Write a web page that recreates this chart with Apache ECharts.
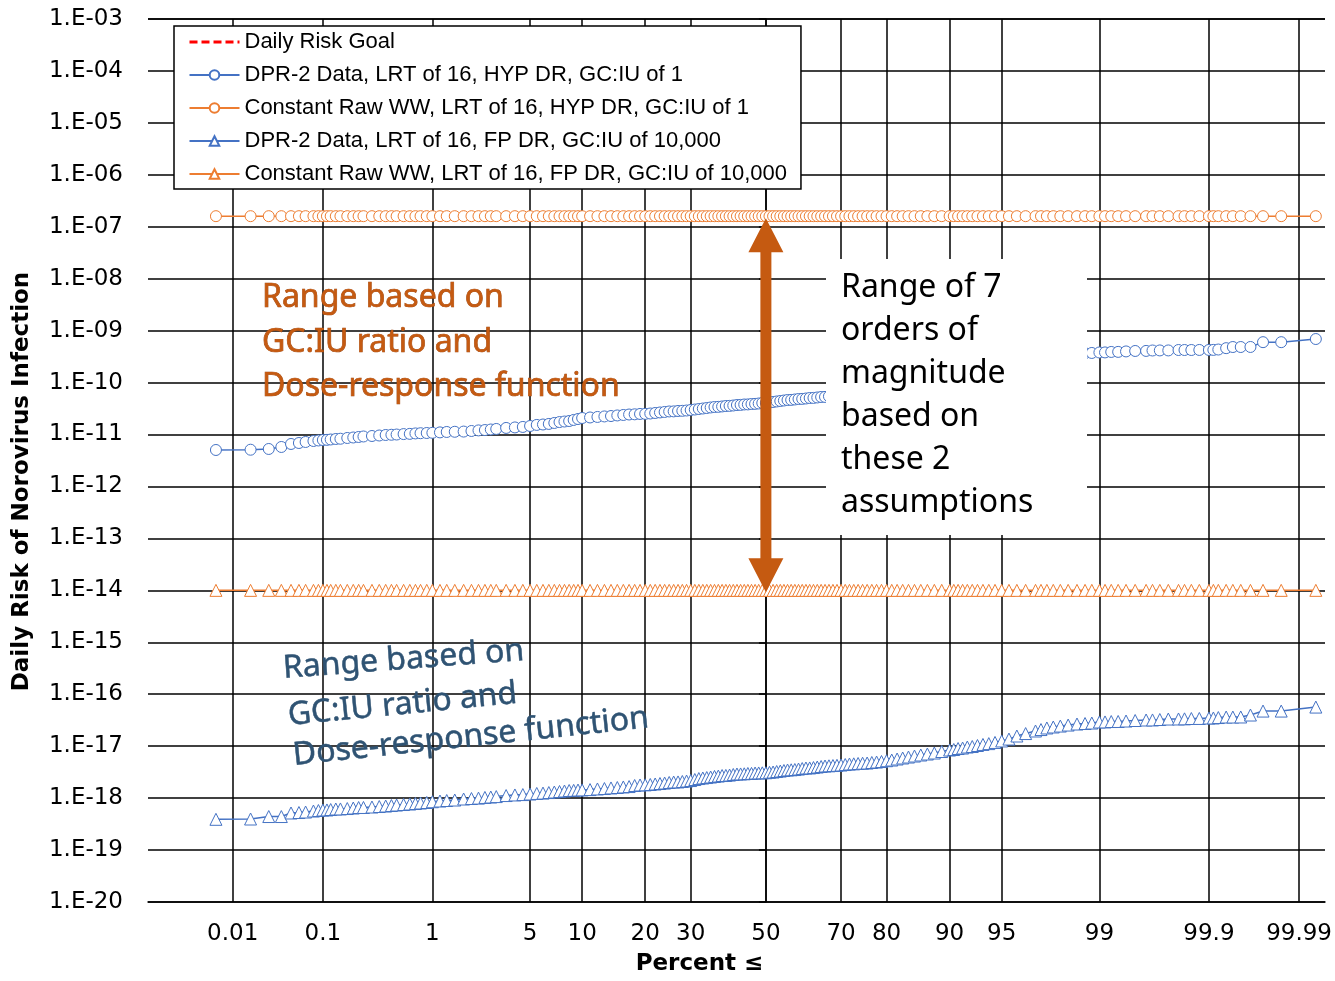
<!DOCTYPE html>
<html>
<head>
<meta charset="utf-8">
<script src="https://cdn.jsdelivr.net/npm/echarts@6/dist/echarts.min.js"></script>
<style>
html, body { margin: 0; padding: 0; background: #fff; }
#chart { width: 1335px; height: 981px; }
</style>
</head>
<body>
<div id="chart"></div>
<script>
// plotting position (percent) shared by the Monte Carlo series
const percentRank = [
  0.00625, 0.01625, 0.02625, 0.03625, 0.04625, 0.05625, 0.06625, 0.08, 0.09, 0.1,
  0.11, 0.12, 0.135, 0.15, 0.175, 0.2, 0.225, 0.25, 0.3, 0.35,
  0.4, 0.45, 0.5, 0.575, 0.65, 0.725, 0.8, 0.9,
  1, 1.15, 1.3, 1.5, 1.75, 2, 2.25, 2.5, 2.75, 3,
  3.5, 4, 4.5, 5, 5.5, 6, 6.5, 7, 7.5, 8,
  8.5, 9, 9.5,
  10, 11, 12, 13, 14, 15, 16, 17, 18, 19,
  20, 21, 22, 23, 24, 25, 26, 27, 28, 29,
  30, 31, 32, 33, 34, 35, 36, 37, 38, 39,
  40, 41, 42, 43, 44, 45, 46, 47, 48, 49,
  50, 51, 52, 53, 54, 55, 56, 57, 58, 59,
  60, 61, 62, 63, 64, 65, 66, 67, 68, 69,
  70, 71, 72, 73, 74, 75, 76, 77, 78, 79,
  80, 81, 82, 83, 84, 85, 86, 87, 88, 89,
  90,
  90.5, 91, 91.5, 92, 92.5, 93, 93.5, 94, 94.5, 95,
  95.5, 96, 96.5, 97, 97.25, 97.5, 97.75, 98, 98.25, 98.5,
  98.7, 98.85,
  99, 99.1, 99.2, 99.3, 99.4, 99.5, 99.6, 99.65, 99.7, 99.75,
  99.8, 99.825, 99.85, 99.875, 99.9, 99.91, 99.92, 99.93375, 99.94375, 99.95375,
  99.96375, 99.97375, 99.98375, 99.99375
]

// DPR-2 Data, LRT of 16, HYP DR, GC:IU of 1
const dprHypRisk = [
  5.04e-12, 5.1e-12, 5.27e-12, 5.76e-12, 6.58e-12, 6.87e-12, 7.19e-12, 7.51e-12, 7.68e-12, 7.85e-12,
  7.9e-12, 8.03e-12, 8.21e-12, 8.3e-12, 8.58e-12, 8.77e-12, 8.97e-12, 9.17e-12, 9.37e-12, 9.58e-12,
  9.8e-12, 9.9e-12, 1.0e-11, 1.02e-11, 1.03e-11, 1.05e-11, 1.06e-11, 1.07e-11,
  1.08e-11, 1.1e-11, 1.12e-11, 1.13e-11, 1.14e-11, 1.17e-11, 1.2e-11, 1.22e-11, 1.25e-11, 1.28e-11,
  1.34e-11, 1.37e-11, 1.4e-11, 1.46e-11, 1.53e-11, 1.56e-11, 1.6e-11, 1.67e-11, 1.74e-11, 1.78e-11,
  1.82e-11, 1.91e-11, 1.99e-11,
  2.08e-11, 2.13e-11, 2.18e-11, 2.23e-11, 2.27e-11, 2.33e-11, 2.38e-11, 2.43e-11, 2.45e-11, 2.49e-11,
  2.5e-11, 2.54e-11, 2.6e-11, 2.66e-11, 2.72e-11, 2.78e-11, 2.79e-11, 2.84e-11, 2.86e-11, 2.9e-11,
  2.97e-11, 3.03e-11, 3.1e-11, 3.17e-11, 3.24e-11, 3.32e-11, 3.39e-11, 3.41e-11, 3.47e-11, 3.54e-11,
  3.56e-11, 3.62e-11, 3.7e-11, 3.72e-11, 3.79e-11, 3.8e-11, 3.87e-11, 3.89e-11, 3.96e-11, 4.05e-11,
  4.06e-11, 4.14e-11, 4.23e-11, 4.33e-11, 4.42e-11, 4.52e-11, 4.62e-11, 4.64e-11, 4.73e-11, 4.83e-11,
  4.85e-11, 4.94e-11, 5.05e-11, 5.07e-11, 5.17e-11, 5.28e-11, 5.3e-11, 5.45e-11, 5.6e-11, 5.8e-11,
  6.0e-11, 6.25e-11, 6.5e-11, 6.75e-11, 7.0e-11, 7.3e-11, 7.6e-11, 7.95e-11, 8.3e-11, 8.65e-11,
  9.0e-11, 9.5e-11, 1.0e-10, 1.05e-10, 1.1e-10, 1.15e-10, 1.2e-10, 1.28e-10, 1.35e-10, 1.42e-10,
  1.5e-10,
  1.55e-10, 1.6e-10, 1.65e-10, 1.7e-10, 1.78e-10, 1.85e-10, 1.92e-10, 2.0e-10, 2.1e-10, 2.2e-10,
  2.32e-10, 2.45e-10, 2.6e-10, 2.75e-10, 2.88e-10, 3.0e-10, 3.15e-10, 3.3e-10, 3.45e-10, 3.6e-10,
  3.68e-10, 3.72e-10,
  3.8e-10, 3.81e-10, 3.89e-10, 3.9e-10, 3.98e-10, 4.06e-10, 4.07e-10, 4.15e-10, 4.16e-10, 4.16e-10,
  4.24e-10, 4.24e-10, 4.24e-10, 4.25e-10, 4.25e-10, 4.26e-10, 4.33e-10, 4.6e-10, 4.84e-10, 4.84e-10,
  4.85e-10, 6.0e-10, 6.0e-10, 6.9e-10
]

// DPR-2 Data, LRT of 16, FP DR, GC:IU of 10,000
const dprFpRisk = [
  3.91e-19, 3.96e-19, 4.42e-19, 4.42e-19, 5.17e-19, 5.28e-19, 5.4e-19, 5.64e-19, 5.77e-19, 5.9e-19,
  5.92e-19, 6.03e-19, 6.17e-19, 6.19e-19, 6.3e-19, 6.45e-19, 6.59e-19, 6.61e-19, 6.74e-19, 6.89e-19,
  7.04e-19, 7.2e-19, 7.36e-19, 7.53e-19, 7.7e-19, 7.87e-19, 8.05e-19, 8.23e-19,
  8.52e-19, 8.79e-19, 8.99e-19, 9.19e-19, 9.61e-19, 9.82e-19, 1.0e-18, 1.03e-18, 1.05e-18, 1.07e-18,
  1.12e-18, 1.15e-18, 1.17e-18, 1.2e-18, 1.23e-18, 1.25e-18, 1.28e-18, 1.31e-18, 1.34e-18, 1.37e-18,
  1.4e-18, 1.41e-18, 1.43e-18,
  1.44e-18, 1.46e-18, 1.5e-18, 1.53e-18, 1.57e-18, 1.6e-18, 1.64e-18, 1.67e-18, 1.75e-18, 1.79e-18,
  1.8e-18, 1.83e-18, 1.87e-18, 1.91e-18, 1.95e-18, 2.0e-18, 2.04e-18, 2.05e-18, 2.09e-18, 2.13e-18,
  2.18e-18, 2.28e-18, 2.38e-18, 2.44e-18, 2.49e-18, 2.55e-18, 2.61e-18, 2.66e-18, 2.72e-18, 2.73e-18,
  2.78e-18, 2.85e-18, 2.91e-18, 2.92e-18, 2.94e-18, 2.98e-18, 2.99e-18, 3.04e-18, 3.05e-18, 3.07e-18,
  3.08e-18, 3.14e-18, 3.18e-18, 3.25e-18, 3.32e-18, 3.4e-18, 3.48e-18, 3.51e-18, 3.55e-18, 3.63e-18,
  3.71e-18, 3.8e-18, 3.81e-18, 3.88e-18, 3.97e-18, 4.06e-18, 4.15e-18, 4.19e-18, 4.24e-18, 4.28e-18,
  4.34e-18, 4.43e-18, 4.53e-18, 4.57e-18, 4.64e-18, 4.7e-18, 4.74e-18, 4.85e-18, 4.95e-18, 5.06e-18,
  5.25e-18, 5.41e-18, 5.66e-18, 5.92e-18, 6.18e-18, 6.46e-18, 6.76e-18, 7.06e-18, 7.38e-18, 7.89e-18,
  8.43e-18,
  8.62e-18, 9.01e-18, 9.21e-18, 9.63e-18, 9.85e-18, 1.03e-17, 1.08e-17, 1.12e-17, 1.18e-17, 1.26e-17,
  1.37e-17, 1.57e-17, 1.75e-17, 1.96e-17, 2.09e-17, 2.24e-17, 2.34e-17, 2.44e-17, 2.55e-17, 2.67e-17,
  2.73e-17, 2.79e-17,
  2.92e-17, 2.93e-17, 2.98e-17, 2.99e-17, 3.05e-17, 3.12e-17, 3.19e-17, 3.2e-17, 3.26e-17, 3.33e-17,
  3.34e-17, 3.36e-17, 3.41e-17, 3.42e-17, 3.48e-17, 3.49e-17, 3.56e-17, 3.64e-17, 3.64e-17, 3.65e-17,
  3.98e-17, 4.74e-17, 4.74e-17, 5.66e-17
]

// constant raw wastewater runs are flat
const rawWwHypRisk = 1.6e-7
const rawWwFpRisk = 1e-14
const dailyRiskGoal = 2.7e-7

const xTickPercents = [0.01, 0.1, 1, 5, 10, 20, 30, 50, 70, 80, 90, 95, 99, 99.9, 99.99]
const xTickLabels = ['0.01', '0.1', '1', '5', '10', '20', '30', '50', '70', '80', '90', '95', '99', '99.9', '99.99']

const seriesNames = [
  'Daily Risk Goal',
  'DPR-2 Data, LRT of 16, HYP DR, GC:IU of 1',
  'Constant Raw WW, LRT of 16, HYP DR, GC:IU of 1',
  'DPR-2 Data, LRT of 16, FP DR, GC:IU of 10,000',
  'Constant Raw WW, LRT of 16, FP DR, GC:IU of 10,000'
]

const BLUE = '#4472C4'
const ORANGE = '#ED7D31'
const RUST = '#C55A11'

// inverse normal CDF (Acklam) -> probability-paper x axis
function normInv(p) {
  const a = [-3.969683028665376e+01, 2.209460984245205e+02, -2.759285104469687e+02, 1.383577518672690e+02, -3.066479806614716e+01, 2.506628277459239e+00]
  const b = [-5.447609879822406e+01, 1.615858368580409e+02, -1.556989798598866e+02, 6.680131188771972e+01, -1.328068155288572e+01]
  const c = [-7.784894002430293e-03, -3.223964580411365e-01, -2.400758277161838e+00, -2.549732539343734e+00, 4.374664141464968e+00, 2.938163982698783e+00]
  const d = [7.784695709041462e-03, 3.224671290700398e-01, 2.445134137142996e+00, 3.754408661907416e+00]
  const pl = 0.02425
  let q, r
  if (p < pl) {
    q = Math.sqrt(-2 * Math.log(p))
    return (((((c[0] * q + c[1]) * q + c[2]) * q + c[3]) * q + c[4]) * q + c[5]) / ((((d[0] * q + d[1]) * q + d[2]) * q + d[3]) * q + 1)
  }
  if (p > 1 - pl) {
    q = Math.sqrt(-2 * Math.log(1 - p))
    return -(((((c[0] * q + c[1]) * q + c[2]) * q + c[3]) * q + c[4]) * q + c[5]) / ((((d[0] * q + d[1]) * q + d[2]) * q + d[3]) * q + 1)
  }
  q = p - 0.5
  r = q * q
  return (((((a[0] * r + a[1]) * r + a[2]) * r + a[3]) * r + a[4]) * r + a[5]) * q / (((((b[0] * r + b[1]) * r + b[2]) * r + b[3]) * r + b[4]) * r + 1)
}
const probit = pct => normInv(pct / 100)
const xTickZ = xTickPercents.map(probit)

function tickLabel(v) {
  let best = 0
  xTickZ.forEach((z, i) => { if (Math.abs(z - v) < Math.abs(xTickZ[best] - v)) best = i })
  return xTickLabels[best]
}
function expLabel(v) {
  const e = Math.round(Math.log10(v))
  return '1.E' + (e < 0 ? '-' : '+') + String(Math.abs(e)).padStart(2, '0')
}

const chart = echarts.init(document.getElementById('chart'))

const markerSeries = (name, values, symbol, color) => ({
  name,
  type: 'line',
  data: percentRank.map((p, i) => [probit(p), Array.isArray(values) ? values[i] : values]),
  symbol,
  symbolSize: symbol === 'circle' ? 11 : 12,
  showSymbol: true,
  showAllSymbol: true,
  lineStyle: { color, width: 1.5 },
  itemStyle: { color: '#fff', borderColor: color, borderWidth: 1 },
  emphasis: { disabled: true },
})

chart.setOption({
  animation: false,
  textStyle: { fontFamily: 'DejaVu Sans' },
  grid: { left: 148, right: 10, top: 19, bottom: 79 },
  legend: {
    orient: 'vertical',
    left: 174,
    top: 26,
    padding: [5, 14, 4, 14],
    itemGap: 11,
    itemWidth: 50,
    itemHeight: 12,
    backgroundColor: '#fff',
    borderColor: '#000',
    borderWidth: 1.5,
    borderRadius: 0,
    textStyle: { fontFamily: 'Liberation Sans', fontSize: 22, color: '#000', lineHeight: 22 },
    data: [
      { name: seriesNames[0], lineStyle: { color: '#FF0000', width: 3, type: [8, 4] } },
      seriesNames[1], seriesNames[2], seriesNames[3], seriesNames[4],
    ],
  },
  xAxis: {
    type: 'value',
    min: -4.31,
    max: 3.90,
    name: 'Percent \u2264',
    nameLocation: 'middle',
    nameGap: 51,
    nameTextStyle: { fontFamily: 'DejaVu Sans', fontWeight: 'bold', fontSize: 23, color: '#000', padding: [0, 74, 0, 0] },
    axisLine: { show: true, lineStyle: { color: '#000', width: 1.5 } },
    axisTick: { show: false, customValues: xTickZ },
    axisLabel: { customValues: xTickZ, formatter: tickLabel, fontSize: 23, color: '#000', margin: 21 },
    splitLine: { show: true, lineStyle: { color: '#000', width: 1.5 } },
  },
  yAxis: {
    type: 'log',
    logBase: 10,
    min: 1e-20,
    max: 1e-3,
    interval: 1,
    name: 'Daily Risk of Norovirus Infection',
    nameLocation: 'middle',
    nameGap: 114,
    nameRotate: 90,
    nameTextStyle: { fontFamily: 'DejaVu Sans', fontWeight: 'bold', fontSize: 23, color: '#000', padding: [0, 42, 0, 0] },
    axisLine: { show: true, lineStyle: { color: '#000', width: 1.5 } },
    axisTick: { show: true, length: 7, lineStyle: { color: '#000', width: 1.5 } },
    axisLabel: { formatter: expLabel, fontSize: 23, color: '#000', margin: 25 },
    splitLine: { show: true, lineStyle: { color: '#000', width: 1.5 } },
    minorTick: { show: false },
  },
  series: [
    {
      name: seriesNames[0],
      type: 'line',
      data: [],
      symbol: 'none',
      lineStyle: { color: '#FF0000', width: 3, type: [10, 5] },
      // no marker for the goal, also in the legend
      itemStyle: { color: 'rgba(0,0,0,0)', borderColor: 'rgba(0,0,0,0)' },
      markLine: {
        silent: true,
        symbol: 'none',
        label: { show: false },
        lineStyle: { color: '#FF0000', width: 3, type: [10, 5] },
        data: [{ yAxis: dailyRiskGoal }],
      },
    },
    markerSeries(seriesNames[1], dprHypRisk, 'circle', BLUE),
    markerSeries(seriesNames[2], rawWwHypRisk, 'circle', ORANGE),
    markerSeries(seriesNames[3], dprFpRisk, 'triangle', BLUE),
    markerSeries(seriesNames[4], rawWwFpRisk, 'triangle', ORANGE),
  ],
})

// annotations: double arrow between the two constant runs, text boxes
const arrowTop = chart.convertToPixel({ gridIndex: 0 }, [probit(50), rawWwHypRisk])
const arrowBot = chart.convertToPixel({ gridIndex: 0 }, [probit(50), rawWwFpRisk])
const ax = arrowTop[0], ty = arrowTop[1] + 2, by = arrowBot[1] + 2
const hw = 17.5, sw = 5.5, hl = 34

chart.setOption({
  graphic: [
    {
      type: 'polygon', z: 90, silent: true,
      shape: { points: [[ax, ty], [ax + hw, ty + hl], [ax + sw, ty + hl], [ax + sw, by - hl], [ax + hw, by - hl], [ax, by], [ax - hw, by - hl], [ax - sw, by - hl], [ax - sw, ty + hl], [ax - hw, ty + hl]] },
      style: { fill: RUST },
    },
    {
      type: 'rect', z: 95, silent: true,
      shape: { x: 826, y: 259, width: 261, height: 276 },
      style: { fill: '#fff' },
    },
    {
      type: 'text', z: 96, silent: true, x: 841, y: 266,
      style: {
        text: 'Range of 7\norders of\nmagnitude\nbased on\nthese 2\nassumptions',
        font: '32px "Noto Sans"', fill: '#000', lineHeight: 43, verticalAlign: 'top',
      },
    },
    {
      type: 'text', z: 96, silent: true, x: 262, y: 276,
      style: {
        text: 'Range based on\nGC:IU ratio and\nDose-response function',
        font: '32px "Noto Sans"', fill: RUST, stroke: '#9A430C', lineWidth: 0.7, lineHeight: 44.5, verticalAlign: 'top',
      },
    },
    {
      type: 'text', z: 96, silent: true, x: 283, y: 669, rotation: 0.075,
      style: { text: 'Range based on', font: '32px "Noto Sans"', fill: '#2F5373', stroke: '#2F5373', lineWidth: 0.5, verticalAlign: 'middle' },
    },
    {
      type: 'text', z: 96, silent: true, x: 288, y: 716, rotation: 0.097,
      style: { text: 'GC:IU ratio and', font: '32px "Noto Sans"', fill: '#2F5373', stroke: '#2F5373', lineWidth: 0.5, verticalAlign: 'middle' },
    },
    {
      type: 'text', z: 96, silent: true, x: 293, y: 756, rotation: 0.106,
      style: { text: 'Dose-response function', font: '32px "Noto Sans"', fill: '#2F5373', stroke: '#2F5373', lineWidth: 0.5, verticalAlign: 'middle' },
    },
  ],
})
</script>
</body>
</html>
